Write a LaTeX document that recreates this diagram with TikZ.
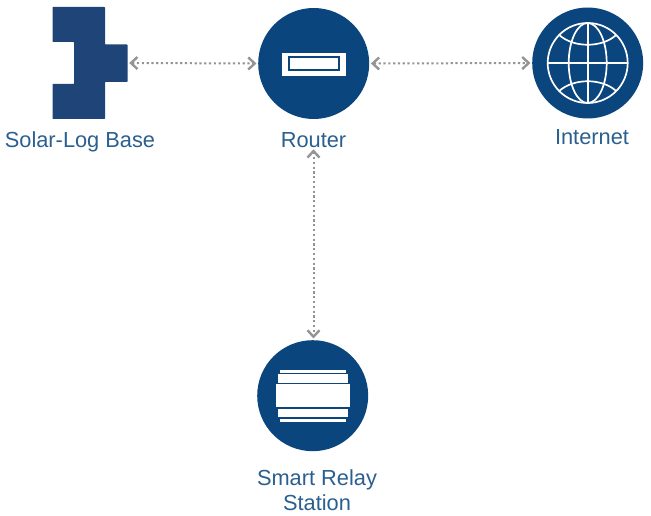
\documentclass[tikz,border=0pt]{standalone}
\usepackage{fontspec}
\setmainfont{Liberation Sans}
\usetikzlibrary{arrows.meta}
\definecolor{basecol}{HTML}{1F4477}
\definecolor{disc}{HTML}{0B457E}
\definecolor{labelcol}{HTML}{2A5F8F}
\definecolor{linkcol}{HTML}{949494}
\tikzset{
  device/.style={circle,fill=disc,draw=none,minimum size=111pt,inner sep=0pt},
  lbl/.style={text=labelcol,font=\fontsize{21.8}{25.5}\selectfont,align=center,inner sep=0pt},
  link/.style={draw=linkcol,line width=2pt,dash pattern=on 2.2pt off 2.6pt,
    {Straight Barb[length=6.5pt,width=12pt,line width=2.4pt]}-{Straight Barb[length=6.5pt,width=12pt,line width=2.4pt]},
    shorten <=1.5pt,shorten >=1.5pt},
  gl/.style={draw=white,line width=1.7pt},
  wh/.style={fill=white,draw=none}
}
\begin{document}
\begin{tikzpicture}[x=1pt,y=-1pt]
\useasboundingbox (0,0) rectangle (651,516);
% Solar-Log Base
\fill[basecol,rounded corners=0.6pt] (52.5,7) -- (105,7) -- (105,44.5) -- (127.5,44.5) -- (127.5,82) -- (105,82)
  -- (105,119) -- (52.5,119) -- (52.5,84) -- (74,84) -- (74,42) -- (52.5,42) -- cycle;
\node[minimum width=75pt,minimum height=112pt,inner sep=0pt] (base) at (90,63) {};
\node[lbl] (baselabel) at (80,141.5) {Solar-Log Base};
% Router
\node[device] (router) at (313.7,63.5) {};
\fill[wh] (281.7,52.7) rectangle (345.7,76);
\draw[disc,line width=2pt] (288.5,57.2) rectangle (338.5,70.2);
\node[lbl] (routerlabel) at (313.5,140) {Router};
% Internet
\node[device] (internet) at (587.7,63) {};
\begin{scope}[shift={(587.7,63)}]
  \draw[gl] (0,0) circle (40);
  \draw[gl] (-40,0) -- (40,0);
  \draw[gl] (0,-40) -- (0,40);
  \draw[gl] (0,0) ellipse (19 and 40);
  \draw[gl] (-28.5,-28) .. controls (-14,-15) and (14,-15) .. (28.5,-28);
  \draw[gl] (-28.5,28) .. controls (-14,15) and (14,15) .. (28.5,28);
\end{scope}
\node[lbl] (internetlabel) at (592,137.5) {Internet};
% Smart Relay Station
\node[device] (relay) at (312.7,395.7) {};
\fill[wh] (280,369.7) rectangle (345.5,373);
\fill[wh] (278,374.3) rectangle (348,382.7);
\fill[wh] (276,384.3) rectangle (350,407.3);
\fill[wh] (278,409) rectangle (348,417.3);
\fill[wh] (280,418.7) rectangle (345.5,422.3);
\node[lbl] (relaylabel) at (317,490) {Smart Relay\\Station};
% Connectors
\draw[link] (base.east) -- (router.west);
\draw[link] (router.east) -- (internet.west);
\draw[link] (routerlabel.south) -- (relay.north -| routerlabel.south);
\end{tikzpicture}
\end{document}
